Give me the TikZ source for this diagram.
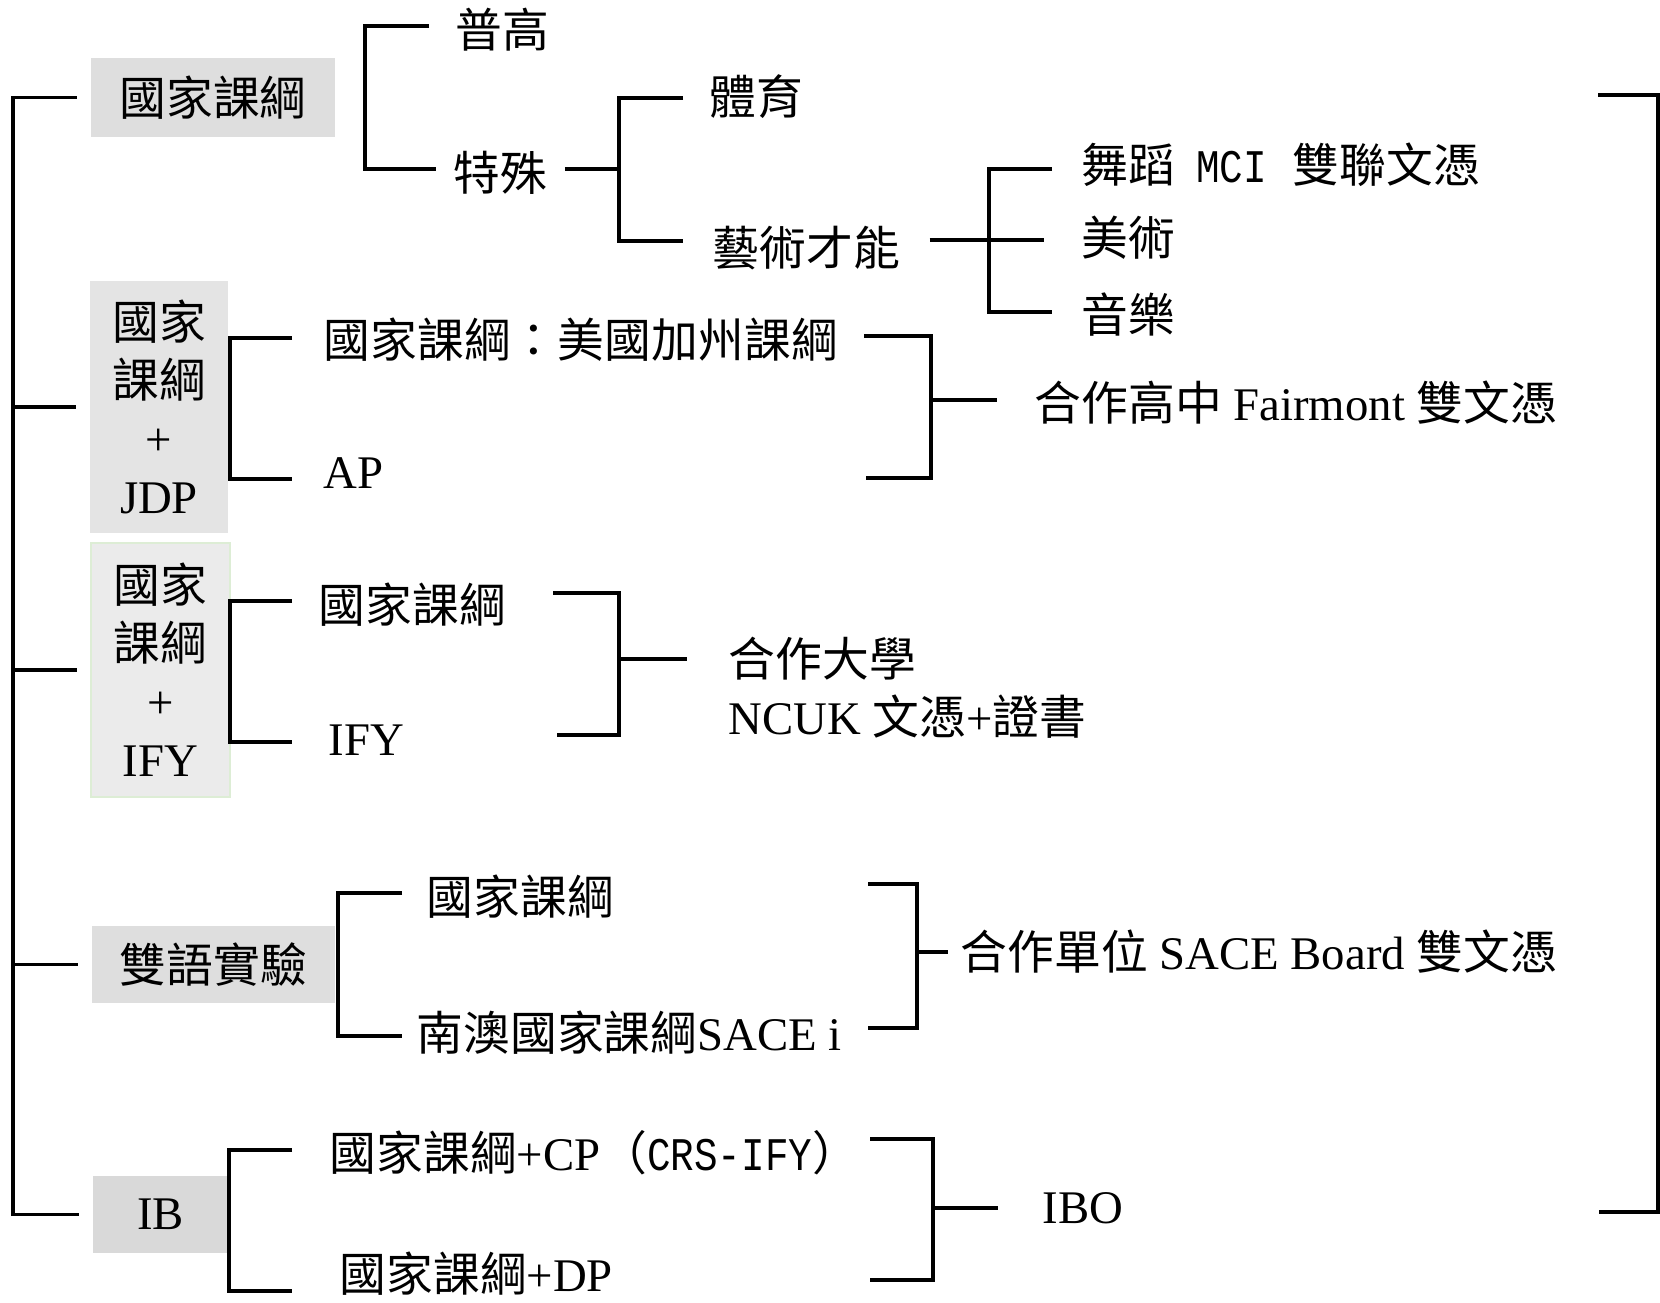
\documentclass[tikz,border=0pt]{standalone}
\usepackage{fontspec}
\setmainfont{Liberation Serif}
\newfontfamily\kai{Noto Sans CJK TC}
\newfontfamily\halfw{Liberation Mono}[FakeStretch=0.84]
\definecolor{grayA}{HTML}{DEDEDE}
\definecolor{grayB}{HTML}{E4E4E4}
\definecolor{grayC}{HTML}{EBEBEB}
\definecolor{greenedge}{HTML}{DDEDD5}
\definecolor{grayD}{HTML}{D9D9D9}

\tikzset{
  br/.style={line width=1.1pt},
  cat/.style={fill=#1, inner sep=0pt, outer xsep=.14cm, align=center,
    font=\kai\fontsize{13.3}{16.5}\selectfont},
  leaf/.style={anchor=west, inner ysep=0pt, inner xsep=#1,
    font=\fontsize{13.3}{16.5}\selectfont},
}

\begin{document}
\begin{tikzpicture}[x=0.01cm,y=-0.01cm]
  \useasboundingbox (0,0) rectangle (1660,1302);

  % the five tracks
  \node[cat=grayA, minimum width=2.44cm, minimum height=.79cm] (b1) at (213,97.5) {國家課綱};
  \node[cat=grayB, minimum width=1.38cm, minimum height=2.52cm] (b2) at (159,407) {國家\\課綱\\{\rmfamily +}\\{\rmfamily JDP}};
  \node[cat=grayC, draw=greenedge, line width=.5pt, minimum width=1.39cm, minimum height=2.54cm] (b3) at (160.5,670) {國家\\課綱\\{\rmfamily +}\\{\rmfamily IFY}};
  \node[cat=grayA, minimum width=2.43cm, minimum height=.77cm] (b4) at (213.5,964.5) {雙語實驗};
  \node[cat=grayD, minimum width=1.35cm, minimum height=.77cm] (b5) at (160.5,1214.5) {\rmfamily IB};

  \coordinate (root) at (13,600);
  \draw[br] (b1.west) -| (root) |- (b5.west);
  \foreach \b in {b2,b3,b4}
    \draw[br] (\b.west) -- (\b.west -| root);

  % national curriculum branch
  \node[leaf=.26cm] (putong) at (429,30) {\kai 普高};
  \node[leaf=.17cm] (teshu) at (436,173) {\kai 特殊};
  \node[leaf=.26cm] (tiyu) at (683,97) {\kai 體育};
  \node[leaf=.29cm] (yishu) at (683,248) {\kai 藝術才能};
  \node[leaf=.29cm] (wudao) at (1052,165) {\kai 舞蹈\hspace{.45em}{\halfw MCI}\hspace{.55em}雙聯文憑};
  \node[leaf=.37cm] (meishu) at (1044,238) {\kai 美術};
  \node[leaf=.29cm] (yinyue) at (1052,315) {\kai 音樂};

  \coordinate (g1t) at (365,26);
  \coordinate (g1b) at (365,169);
  \draw[br] (putong.west |- g1t) -- (g1t) -- (g1b) -- (teshu.west |- g1b);
  \coordinate (g2t) at (619,98);
  \coordinate (g2b) at (619,241);
  \draw[br] (teshu.east |- g1b) -- (g1b -| g2t);
  \draw[br] (tiyu.west |- g2t) -- (g2t) -- (g2b) -- (yishu.west |- g2b);
  \coordinate (g3t) at (989,169);
  \coordinate (g3b) at (989,312);
  \coordinate (g3m) at (989,240);
  \draw[br] (wudao.west |- g3t) -- (g3t) -- (g3b) -- (yinyue.west |- g3b);
  \draw[br] (yishu.east |- g3m) -- (meishu.west |- g3m);

  % JDP
  \node[leaf=.31cm] (calif) at (292,340) {\kai 國家課綱：美國加州課綱};
  \node[leaf=.31cm] (ap) at (292,473) {AP};
  \node[leaf=.37cm] (fair) at (997,403) {{\kai 合作高中} Fairmont {\kai 雙文憑}};
  \coordinate (g4t) at (230,338);
  \coordinate (g4b) at (230,479);
  \draw[br] (calif.west |- g4t) -- (g4t) -- (g4b) -- (ap.west |- g4b);
  \coordinate (r4t) at (931,336);
  \coordinate (r4b) at (931,478);
  \coordinate (r4m) at (931,400);
  \draw[br] (r4t) ++(-67,0) -- (r4t) -- (r4b) -- ++(-65,0);
  \draw[br] (r4m) -- (r4m -| fair.west);

  % IFY
  \node[leaf=.26cm] (gk3) at (292,605) {\kai 國家課綱};
  \node[leaf=.36cm] (ify) at (292,740) {IFY};
  \node[leaf=.41cm, align=left] (ncuk) at (687,688) {{\kai 合作大學}\\NCUK {\kai 文憑}+{\kai 證書}};
  \coordinate (g5t) at (230,601);
  \coordinate (g5b) at (230,742);
  \draw[br] (gk3.west |- g5t) -- (g5t) -- (g5b) -- (ify.west |- g5b);
  \coordinate (r5t) at (619,593);
  \coordinate (r5b) at (619,735);
  \coordinate (r5m) at (619,659);
  \draw[br] (r5t) ++(-66,0) -- (r5t) -- (r5b) -- ++(-62,0);
  \draw[br] (r5m) -- (r5m -| ncuk.west);

  % bilingual
  \node[leaf=.24cm] (gk4) at (402,897) {\kai 國家課綱};
  \node[leaf=.14cm] (sacei) at (402,1033) {{\kai 南澳國家課綱}SACE i};
  \node[leaf=.12cm] (board) at (948,952) {{\kai 合作單位} SACE Board {\kai 雙文憑}};
  \coordinate (g6t) at (338,893);
  \coordinate (g6b) at (338,1036);
  \draw[br] (gk4.west |- g6t) -- (g6t) -- (g6b) -- (sacei.west |- g6b);
  \coordinate (r6t) at (917,884);
  \coordinate (r6b) at (917,1028);
  \coordinate (r6m) at (917,952);
  \draw[br] (r6t) ++(-49,0) -- (r6t) -- (r6b) -- ++(-49,0);
  \draw[br] (r6m) -- (r6m -| board.west);

  % IB
  \node[leaf=.37cm] (cp) at (292,1153) {{\kai 國家課綱}+CP{\kai （{\halfw CRS-IFY}）}};
  \node[leaf=.47cm] (dp) at (292,1274) {{\kai 國家課綱}+DP};
  \node[leaf=.44cm] (ibo) at (998,1208) {IBO};
  \coordinate (g7t) at (229,1150);
  \coordinate (g7b) at (229,1291);
  \draw[br] (cp.west |- g7t) -- (g7t) -- (g7b) -- (dp.west |- g7b);
  \coordinate (r7t) at (933,1139);
  \coordinate (r7b) at (933,1280);
  \coordinate (r7m) at (933,1208);
  \draw[br] (r7t) ++(-63,0) -- (r7t) -- (r7b) -- ++(-63,0);
  \draw[br] (r7m) -- (r7m -| ibo.west);

  % closing bracket
  \coordinate (endt) at (1658,95);
  \coordinate (endb) at (1658,1212);
  \draw[br] (endt) ++(-60,0) -- (endt) -- (endb) -- ++(-59,0);
\end{tikzpicture}
\end{document}
